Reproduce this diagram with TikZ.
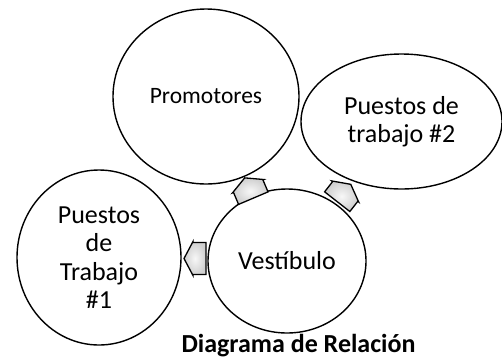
\documentclass[tikz,border=0pt]{standalone}
\usepackage{fontspec}
\setmainfont{Carlito}
\usetikzlibrary{shapes.geometric}
\begin{document}
\begin{tikzpicture}[x=1bp,y=-1bp,
  bub/.style={draw, line width=1.4bp, ellipse, inner sep=0pt, align=center,
    font=\fontsize{26bp}{28.5bp}\selectfont},
  blockarrow/.pic={\draw[line width=1.3bp, line join=miter, inner color=gray!6, outer color=gray!38]
    (11,0) -- (2,-17) -- (2,-16) -- (-11,-16) -- (-11,16) -- (2,16) -- (2,17) -- cycle;}]
\useasboundingbox (0,0) rectangle (502,358);
\node[bub, minimum width=186bp, minimum height=175bp,
  font=\fontsize{23.5bp}{28bp}\selectfont] (prom) at (206,96.5) {Promotores};
\node[bub, minimum width=201bp, minimum height=135bp] (pt2) at (401.5,121.5) {Puestos de\\trabajo \#2};
\node[bub, minimum width=164bp, minimum height=175bp] (pt1) at (99,257.5) {Puestos\\de\\Trabajo\\\#1};
\node[bub, minimum width=158bp, minimum height=144bp] (vest) at (287,261) {Vestíbulo};
\pic[rotate=180] at (195,258.5) {blockarrow};
\pic[rotate=113] at (249,188) {blockarrow};
\pic[rotate=52] at (344,193) {blockarrow};
\node[font=\bfseries\fontsize{26bp}{30bp}\selectfont, anchor=base] (title) at (298.5,352) {Diagrama de Relación};
\end{tikzpicture}
\end{document}
